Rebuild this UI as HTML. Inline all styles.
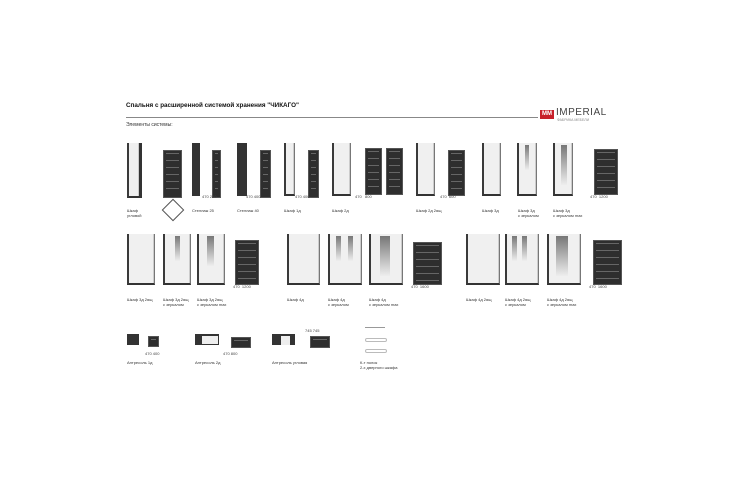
<!DOCTYPE html>
<html><head><meta charset="utf-8">
<style>
body{margin:0;width:750px;height:500px;background:#fff;position:relative;overflow:hidden;font-family:"Liberation Sans","Noto Sans CJK SC",sans-serif}
.a{position:absolute}
.w{position:absolute;background:#f0f0f0;border-left:2px solid #3a3a3a;border-right:1px solid #777;border-bottom:2px solid #333;box-shadow:inset -1px 0 0 #ccc}
.o{position:absolute;background:#2e2e2e;border:1px solid #555}
.o::after{content:"";position:absolute;left:2px;right:2px;top:2px;bottom:2px;background:linear-gradient(#666 1px,transparent 1px) 0 0/100% 7px}
.d{position:absolute;background:#333}
.m{position:absolute;background:linear-gradient(#777,#eee)}
.t{position:absolute;font-size:4px;color:#333;line-height:5px}
.dim{position:absolute;font-size:4px;color:#444}
</style></head><body>
<div class="a" style="left:126px;top:102px;font-size:6.3px;font-weight:bold;color:#111">Спальня с расширенной системой хранения "ЧИКАГО"</div>
<div class="a" style="left:126px;top:117px;width:412px;height:1px;background:#888"></div>
<div class="a" style="left:540px;top:110px;width:14px;height:9px;background:#c8202a;color:#fff;font-size:6px;font-weight:bold;text-align:center;line-height:9px">MM</div>
<div class="a" style="left:556px;top:107px;font-size:10px;color:#444;letter-spacing:0.5px">IMPERIAL</div>
<div class="a" style="left:557px;top:118px;font-size:3.5px;color:#888">ФАБРИКА МЕБЕЛИ</div>
<div class="a" style="left:126px;top:122px;font-size:5px;color:#333">Элементы системы:</div>

<!-- row 1 -->
<div class="w" style="left:127px;top:143px;width:10px;height:53px;border-right:3px solid #333"></div>
<div class="o" style="left:163px;top:150px;width:17px;height:46px"></div>
<div class="d" style="left:192px;top:143px;width:8px;height:53px"></div>
<div class="o" style="left:212px;top:150px;width:7px;height:46px"></div>
<div class="d" style="left:237px;top:143px;width:10px;height:53px"></div>
<div class="o" style="left:260px;top:150px;width:9px;height:46px"></div>
<div class="w" style="left:284px;top:143px;width:8px;height:51px"></div>
<div class="o" style="left:308px;top:150px;width:9px;height:46px"></div>
<div class="w" style="left:332px;top:143px;width:16px;height:51px"></div>
<div class="o" style="left:365px;top:148px;width:15px;height:45px"></div>
<div class="o" style="left:386px;top:148px;width:15px;height:45px"></div>
<div class="w" style="left:416px;top:143px;width:16px;height:51px"></div>
<div class="o" style="left:448px;top:150px;width:15px;height:44px"></div>
<div class="w" style="left:482px;top:143px;width:16px;height:51px"></div>
<div class="w" style="left:517px;top:143px;width:17px;height:51px"></div><div class="m" style="left:525px;top:145px;width:4px;height:25px"></div>
<div class="w" style="left:553px;top:143px;width:17px;height:51px"></div><div class="m" style="left:561px;top:145px;width:6px;height:40px"></div>
<div class="o" style="left:594px;top:149px;width:22px;height:44px"></div>

<div class="dim" style="left:202px;top:194px">470 250</div>
<div class="dim" style="left:246px;top:194px">470 400</div>
<div class="dim" style="left:295px;top:194px">470 400</div>
<div class="dim" style="left:355px;top:194px">470 &nbsp; 800</div>
<div class="dim" style="left:440px;top:194px">470 &nbsp;600</div>
<div class="dim" style="left:590px;top:194px">470 &nbsp;1200</div>

<div class="t" style="left:127px;top:208px">Шкаф<br>угловой</div>
<div class="a" style="left:165px;top:202px;width:14px;height:14px;border:1px solid #555;transform:rotate(45deg)"></div>
<div class="t" style="left:192px;top:208px">Стеллаж 25</div>
<div class="t" style="left:237px;top:208px">Стеллаж 40</div>
<div class="t" style="left:284px;top:208px">Шкаф 1д</div>
<div class="t" style="left:332px;top:208px">Шкаф 2д</div>
<div class="t" style="left:416px;top:208px">Шкаф 2д 2ящ</div>
<div class="t" style="left:482px;top:208px">Шкаф 3д</div>
<div class="t" style="left:518px;top:208px">Шкаф 3д<br>с зеркалом</div>
<div class="t" style="left:553px;top:208px">Шкаф 3д<br>с зеркалом max</div>

<!-- row 2 -->
<div class="w" style="left:127px;top:234px;width:25px;height:49px"></div>
<div class="w" style="left:163px;top:234px;width:25px;height:49px"></div><div class="m" style="left:175px;top:236px;width:5px;height:25px"></div>
<div class="w" style="left:197px;top:234px;width:25px;height:49px"></div><div class="m" style="left:207px;top:236px;width:7px;height:30px"></div>
<div class="o" style="left:235px;top:240px;width:22px;height:43px"></div>
<div class="w" style="left:287px;top:234px;width:30px;height:49px"></div>
<div class="w" style="left:328px;top:234px;width:31px;height:49px"></div><div class="m" style="left:336px;top:236px;width:5px;height:25px"></div><div class="m" style="left:348px;top:236px;width:5px;height:25px"></div>
<div class="w" style="left:369px;top:234px;width:31px;height:49px"></div><div class="m" style="left:380px;top:236px;width:10px;height:40px"></div>
<div class="o" style="left:413px;top:242px;width:27px;height:41px"></div>
<div class="w" style="left:466px;top:234px;width:31px;height:49px"></div>
<div class="w" style="left:505px;top:234px;width:31px;height:49px"></div><div class="m" style="left:512px;top:236px;width:5px;height:25px"></div><div class="m" style="left:522px;top:236px;width:5px;height:25px"></div>
<div class="w" style="left:547px;top:234px;width:31px;height:49px"></div><div class="m" style="left:556px;top:236px;width:12px;height:40px"></div>
<div class="o" style="left:593px;top:240px;width:27px;height:43px"></div>
<div class="dim" style="left:233px;top:284px">470 &nbsp;1200</div>
<div class="dim" style="left:411px;top:284px">470 &nbsp;1600</div>
<div class="dim" style="left:589px;top:284px">470 &nbsp;1600</div>

<div class="t" style="left:127px;top:297px">Шкаф 3д 2ящ</div>
<div class="t" style="left:163px;top:297px">Шкаф 3д 2ящ<br>с зеркалом</div>
<div class="t" style="left:197px;top:297px">Шкаф 3д 2ящ<br>с зеркалом max</div>
<div class="t" style="left:287px;top:297px">Шкаф 4д</div>
<div class="t" style="left:328px;top:297px">Шкаф 4д<br>с зеркалом</div>
<div class="t" style="left:369px;top:297px">Шкаф 4д<br>с зеркалом max</div>
<div class="t" style="left:466px;top:297px">Шкаф 4д 2ящ</div>
<div class="t" style="left:505px;top:297px">Шкаф 4д 2ящ<br>с зеркалом</div>
<div class="t" style="left:547px;top:297px">Шкаф 4д 2ящ<br>с зеркалом max</div>

<!-- row 3 -->
<div class="d" style="left:127px;top:334px;width:12px;height:11px"></div>
<div class="o" style="left:148px;top:336px;width:9px;height:9px"></div>
<div class="d" style="left:195px;top:334px;width:24px;height:11px"></div><div class="a" style="left:202px;top:336px;width:16px;height:8px;background:#eee"></div>
<div class="o" style="left:231px;top:337px;width:18px;height:9px"></div>
<div class="d" style="left:272px;top:334px;width:23px;height:11px"></div><div class="a" style="left:281px;top:336px;width:9px;height:9px;background:#eee"></div>
<div class="o" style="left:310px;top:336px;width:18px;height:10px"></div>
<div class="dim" style="left:305px;top:328px">745 745</div>
<div class="dim" style="left:145px;top:351px">470 400</div>
<div class="dim" style="left:223px;top:351px">470 800</div>
<div class="a" style="left:365px;top:327px;width:20px;height:1px;background:#999"></div>
<div class="a" style="left:365px;top:338px;width:20px;height:2px;border:1px solid #bbb;border-radius:2px"></div>
<div class="a" style="left:365px;top:349px;width:20px;height:2px;border:1px solid #bbb;border-radius:2px"></div>
<div class="t" style="left:127px;top:360px">Антресоль 1д</div>
<div class="t" style="left:195px;top:360px">Антресоль 2д</div>
<div class="t" style="left:272px;top:360px">Антресоль угловая</div>
<div class="t" style="left:360px;top:360px">К-т полок<br>2-х дверного шкафа</div>
</body></html>
